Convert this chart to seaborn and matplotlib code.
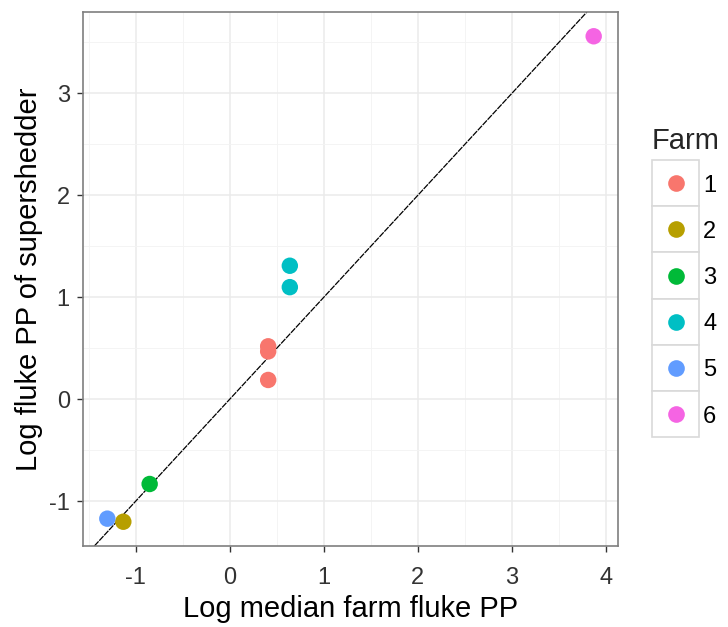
import matplotlib
matplotlib.use("Agg")
import matplotlib.pyplot as plt
from matplotlib.patches import Rectangle
from matplotlib.lines import Line2D
from matplotlib.ticker import MultipleLocator
import seaborn as sns
import pandas as pd

# Log median farm fluke PP vs log fluke PP of the supershedder
farm = ["1", "1", "1", "2", "3", "4", "4", "5", "6"]
log_median_pp = [0.41, 0.41, 0.41, -1.13, -0.85, 0.64, 0.64, -1.30, 3.87]
log_supershedder_pp = [0.52, 0.47, 0.19, -1.20, -0.83, 1.31, 1.10, -1.17, 3.56]

farm_levels = ["1", "2", "3", "4", "5", "6"]
farm_colors = ["#F8766D", "#B79F00", "#00BA38", "#00BFC4", "#619CFF", "#F564E3"]

df = pd.DataFrame({"farm": farm, "x": log_median_pp, "y": log_supershedder_pp})

sns.set_theme(style="white")
plt.rcParams["font.family"] = ["Liberation Sans", "DejaVu Sans"]
plt.rcParams["axes.unicode_minus"] = False

W, H = 728, 627
fig = plt.figure(figsize=(W / 100, H / 100), dpi=100)
left, right, top, bottom = 83, 618, 12, 546
ax = fig.add_axes([left / W, 1 - bottom / H, (right - left) / W, (bottom - top) / H])

# grid (major + minor) under everything
ax.set_axisbelow(True)
ax.xaxis.set_major_locator(MultipleLocator(1))
ax.yaxis.set_major_locator(MultipleLocator(1))
ax.xaxis.set_minor_locator(MultipleLocator(0.5))
ax.yaxis.set_minor_locator(MultipleLocator(0.5))
ax.grid(which="major", color="#EBEBEB", linewidth=1.1)
ax.grid(which="minor", color="#F3F3F3", linewidth=0.6)

xlo, xhi = min(log_median_pp), max(log_median_pp)
ylo, yhi = min(log_supershedder_pp), max(log_supershedder_pp)
xpad, ypad = 0.05 * (xhi - xlo), 0.05 * (yhi - ylo)
ax.set_xlim(xlo - xpad, xhi + xpad)
ax.set_ylim(ylo - ypad, yhi + ypad)

# identity line
ax.axline((0, 0), slope=1, color="black", linewidth=0.9,
          linestyle=(0, (5, 0.8)), zorder=2)

sns.scatterplot(data=df, x="x", y="y", hue="farm", hue_order=farm_levels,
                palette=farm_colors, s=140, linewidth=0, legend=False,
                ax=ax, zorder=3)

for sp in ax.spines.values():
    sp.set_color("#7F7F7F")
    sp.set_linewidth(1.2)

ax.tick_params(axis="both", which="major", direction="out", length=4.5,
               width=1.0, color="#333333", labelsize=17, labelcolor="#333333",
               bottom=True, left=True)
ax.tick_params(axis="x", which="major", pad=10.5)
ax.tick_params(axis="y", which="major", pad=5)
ax.tick_params(which="minor", length=0)

ax.set_xlabel("Log median farm fluke PP", fontsize=21, color="black", labelpad=4.5)
ax.set_ylabel("Log fluke PP of supershedder", fontsize=21, color="black", labelpad=4)

# legend with boxed keys
def fx(px):
    return px / W

def fy(py):
    return 1 - py / H

fig.text(fx(652), fy(149), "Farm", fontsize=21, ha="left", va="baseline")
key_x0, key_x1 = 652, 699
row_top, row_h = 160, 46.2
for i, (lab, col) in enumerate(zip(farm_levels, farm_colors)):
    y0 = row_top + i * row_h
    fig.add_artist(Rectangle((fx(key_x0), fy(y0 + row_h)),
                             (key_x1 - key_x0) / W, row_h / H,
                             transform=fig.transFigure, facecolor="white",
                             edgecolor="#D9D9D9", linewidth=1.2))
    cy = y0 + row_h / 2
    fig.add_artist(Line2D([fx((key_x0 + key_x1) / 2)], [fy(cy)], marker="o",
                          markersize=12, markerfacecolor=col, markeredgewidth=0,
                          linestyle="none", transform=fig.transFigure))
    fig.text(fx(703), fy(cy), lab, fontsize=17, ha="left", va="center_baseline",
             color="black")

fig.savefig("out.png", dpi=100)
